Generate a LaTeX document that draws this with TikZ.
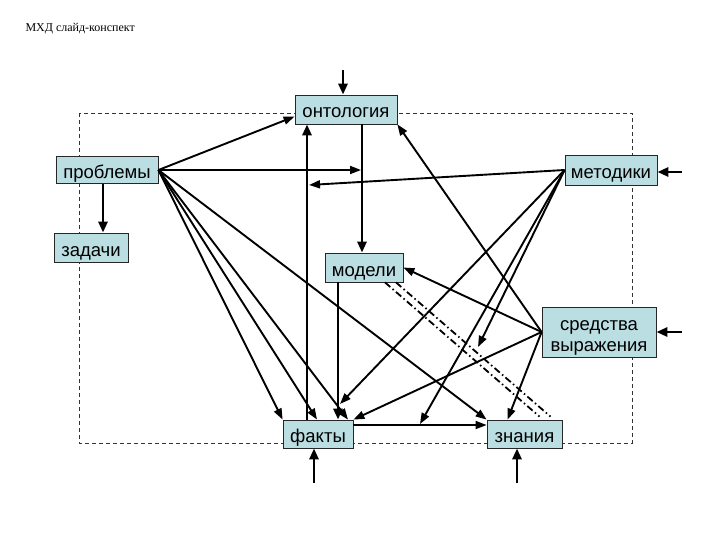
\documentclass[tikz,border=0pt]{standalone}
\usepackage{fontspec}
\setmainfont{Liberation Sans}
\newfontfamily\titlefont{Liberation Serif}
\usetikzlibrary{arrows.meta}
\definecolor{boxfill}{RGB}{187,222,226}
\begin{document}
\begin{tikzpicture}[x=1pt,y=-1pt,
  box/.style={draw=black!85, line width=0.8pt, fill=boxfill, inner sep=0pt,
              font=\fontsize{18.5}{22}\selectfont, text height=17pt, text depth=0pt},
  box2/.style={draw=black!85, line width=0.8pt, fill=boxfill, inner sep=0pt,
              font=\fontsize{18.5}{21}\selectfont},
  conn/.style={line width=1.9pt, -{Triangle[length=11pt,width=8pt]}},
  heavy/.style={line width=2.8pt, -{Triangle[length=11pt,width=9pt]}},
  frame/.style={draw=black!80, line width=0.7pt, dash pattern=on 4pt off 3pt},
  dashdot/.style={line width=1.8pt, dash pattern=on 7pt off 3pt on 1.5pt off 3pt}]
\useasboundingbox (0,0) rectangle (720,540);
\node[anchor=west, font=\titlefont\fontsize{12}{14}\selectfont] (title) at (22,29) {МХД слайд-конспект};
\draw[frame] (79,113) rectangle (632,443);
% boxes
\node[box, minimum width=102pt, minimum height=29pt] (ont)  at (346,109.5) {онтология};
\node[box, minimum width=102pt, minimum height=27pt] (prob) at (107,170) {проблемы};
\node[box, minimum width=74pt,  minimum height=29pt] (zad)  at (91,247.5)  {задачи};
\node[box, minimum width=92pt,  minimum height=30pt] (met)  at (611,170)   {методики};
\node[box, minimum width=78pt,  minimum height=29pt] (mod)  at (364,267.5) {модели};
\node[box2, minimum width=114pt, minimum height=50pt] (sred) at (599,332)
  {\raisebox{-5pt}[\height][\depth]{\begin{tabular}{@{}c@{}}средства\\выражения\end{tabular}}};
\node[box, minimum width=70pt,  minimum height=28pt] (fakt) at (318,434)   {факты};
\node[box, minimum width=75pt,  minimum height=28pt] (znan) at (524.5,434) {знания};
% free ends
\coordinate (inOnt)  at (343,70);
\coordinate (inMet)  at (682,172);
\coordinate (inSred) at (682,332);
\coordinate (inFakt) at (314,483);
\coordinate (inZnan) at (517,483);
\coordinate (p1) at (361,170);
\coordinate (p2) at (309,185);
\coordinate (p3) at (340,404);
\coordinate (p4) at (420,424);
\coordinate (p5) at (478,347);
% external inputs
\draw[heavy] (inOnt) -- ([xshift=-3pt]ont.north);
\draw[heavy] (inMet) -- ([yshift=-2pt]met.east);
\draw[heavy] (inSred) -- (sred.east);
\draw[heavy] (inFakt) -- ([xshift=-4pt]fakt.south);
\draw[heavy] (inZnan) -- ([xshift=-7.5pt]znan.south);
\draw[heavy] ([xshift=-4pt]prob.south) -- ([xshift=12pt]zad.north);
% verticals
\draw[heavy] ([xshift=-11pt]fakt.north) -- ([xshift=-39pt]ont.south);
\draw[heavy] ([xshift=16pt]ont.south) -- ([xshift=-2pt]mod.north);
\draw[heavy] ([xshift=-26pt]mod.south) -- ([xshift=20pt]fakt.north);
% from проблемы
\draw[conn] (prob.east) -- ([yshift=-7pt]ont.west);
\draw[conn] (prob.east) -- (p1);
\draw[conn] (prob.east) -- (znan.north west);
\draw[conn] (prob.east) -- (fakt.north west);
\draw[conn] (prob.east) -- ([xshift=-1pt]fakt.north);
\draw[conn] (prob.east) -- ([xshift=30pt]fakt.north);
% from методики
\draw[conn] (met.west) -- (p2);
\draw[conn] (met.west) -- (p3);
\draw[conn] (met.west) -- (p4);
\draw[conn] (met.west) -- (p5);
% from средства выражения
\draw[conn] (sred.west) -- (mod.east);
\draw[conn] (sred.west) -- (ont.south east);
\draw[conn] (sred.west) -- (fakt.north east);
\draw[conn] (sred.west) -- ([xshift=-17pt]znan.north);
% факты -> знания
\draw[conn] ([yshift=9pt]fakt.east) -- ([yshift=9pt]znan.west);
% модели - знания dash-dot
\draw[dashdot] ([xshift=21pt]mod.south) -- ([xshift=15pt,yshift=3pt]znan.north);
\draw[dashdot] ([xshift=32pt]mod.south) -- ([xshift=26pt,yshift=3pt]znan.north);
\end{tikzpicture}
\end{document}
